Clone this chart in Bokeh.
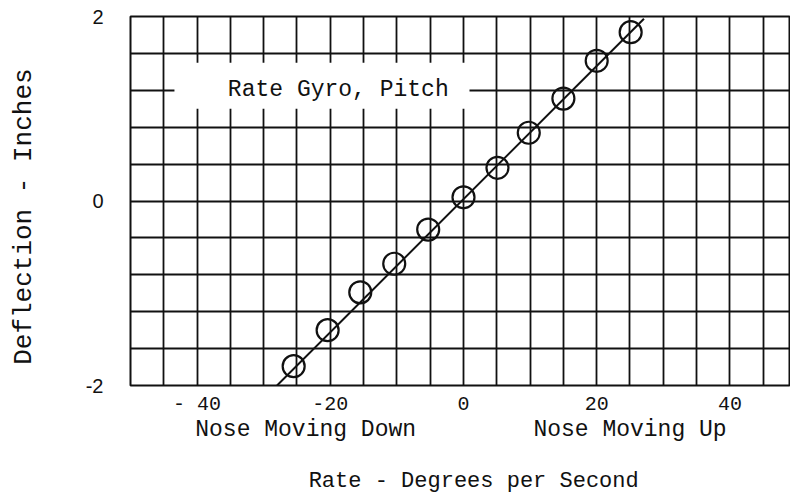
from bokeh.plotting import figure
from bokeh.models import (FixedTicker, SingleIntervalTicker, Label, BoxAnnotation,
                          ColumnDataSource, Range1d, LinearAxis)
from bokeh.embed import file_html
from bokeh.resources import INLINE

# ---- data ----
rate = [-25.5, -20.4, -15.5, -10.4, -5.3, 0.0, 5.1, 9.8, 15.0, 20.0, 25.1]
deflection = [-1.79, -1.40, -0.99, -0.68, -0.31, 0.04, 0.36, 0.74, 1.11, 1.52, 1.83]
fit_rate = [-28.0, 27.1]
fit_deflection = [-2.0, 1.975]
x_ticks = [-40, -20, 0, 20, 40]
x_tick_labels = ["- 40", "-20", "0", "20", "40"]
y_ticks = [-2, 0, 2]
y_tick_labels = ["-2", "0", "2"]
direction_pos = [-23.7, 25.0]
direction_labels = ["Nose Moving Down", "Nose Moving Up"]

MONO = "Liberation Mono"
SANS = "Liberation Sans"
INK = "#111111"
NB = "\u00a0"

p = figure(width=790, height=499, output_backend="svg", toolbar_location=None,
           x_range=Range1d(-50, 49.1), y_range=Range1d(-2, 2),
           min_border_left=130, min_border_right=0, min_border_top=16,
           min_border_bottom=114)
p.background_fill_color = "white"
p.border_fill_color = "white"
p.outline_line_color = INK
p.outline_line_width = 2

# grid
p.xgrid.ticker = SingleIntervalTicker(interval=5)
p.ygrid.ticker = SingleIntervalTicker(interval=0.4)
for g in (p.xgrid, p.ygrid):
    g.grid_line_color = INK
    g.grid_line_width = 1.8
    g.grid_line_alpha = 1.0

# second bottom axis carrying the direction notes and the axis title
dir_axis = LinearAxis(ticker=FixedTicker(ticks=direction_pos),
                      major_label_overrides=dict(zip(direction_pos, direction_labels)))
p.add_layout(dir_axis, "below")

p.xaxis[0].ticker = FixedTicker(ticks=x_ticks)
p.xaxis[0].major_label_overrides = dict(zip(x_ticks, x_tick_labels))
p.yaxis.ticker = FixedTicker(ticks=y_ticks)
p.yaxis.major_label_overrides = dict(zip(y_ticks, y_tick_labels))
for ax in list(p.xaxis) + list(p.yaxis):
    ax.axis_line_color = None
    ax.major_tick_line_color = None
    ax.minor_tick_line_color = None
    ax.major_tick_out = 0
    ax.major_tick_in = 0
    ax.major_label_text_color = INK
    ax.axis_label_text_color = INK
    ax.axis_label_text_font_style = "normal"

p.xaxis[0].major_label_text_font = MONO
p.xaxis[0].major_label_text_font_size = "20px"
p.xaxis[0].major_label_standoff = 7

dir_axis.major_label_text_font = MONO
dir_axis.major_label_text_font_size = "23px"
dir_axis.major_label_standoff = -2
dir_axis.axis_label = NB * 2 + "Rate - Degrees per Second"
dir_axis.axis_label_text_font = MONO
dir_axis.axis_label_text_font_size = "22px"
dir_axis.axis_label_standoff = 23

p.yaxis.major_label_text_font = SANS
p.yaxis.major_label_text_font_size = "20px"
p.yaxis.major_label_standoff = 27
p.yaxis.axis_label = "Deflection - Inches" + NB * 2
p.yaxis.axis_label_text_font = MONO
p.yaxis.axis_label_text_font_size = "26px"
p.yaxis.axis_label_standoff = 44

# white box behind the curve label
box = BoxAnnotation(left=-43.4, right=0.9, bottom=1.0, top=1.5,
                    fill_color="white", fill_alpha=1.0, line_color=None)
p.add_layout(box)
p.add_layout(Label(x=-18.8, y=1.2, text="Rate Gyro, Pitch", text_font=MONO,
                   text_font_size="23px", text_color=INK,
                   text_align="center", text_baseline="middle"))

# data
p.line(fit_rate, fit_deflection, line_color=INK, line_width=2)
src = ColumnDataSource(dict(x=rate, y=deflection))
p.scatter("x", "y", source=src, marker="circle", size=22,
          fill_color=None, line_color=INK, line_width=2.2)

open("out.html", "w").write(file_html(p, INLINE))
